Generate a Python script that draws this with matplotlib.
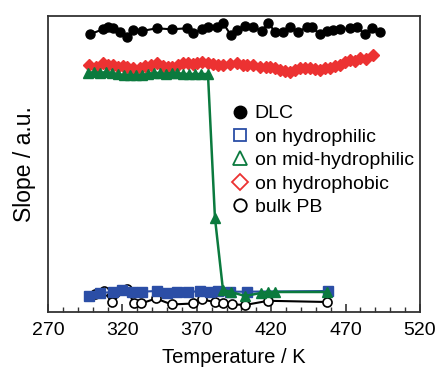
import matplotlib
matplotlib.use('Agg')
import matplotlib.pyplot as plt
from matplotlib.lines import Line2D

plt.rcParams['font.family'] = ['Liberation Sans', 'DejaVu Sans']

# DLC
dlc_t = [298.2, 306.8, 310.5, 313.9, 318.4, 322.9, 327.3, 333.0, 343.0, 353.1,
         363.2, 367.6, 373.3, 377.7, 383.4, 387.8, 392.8, 396.8, 402.4, 408.0,
         413.6, 418.1, 422.6, 428.1, 432.6, 438.2, 443.9, 447.2, 452.8, 457.3,
         461.7, 466.2, 473.0, 477.5, 483.0, 487.5, 493.1]
dlc_v = [277.7, 282.7, 284.7, 283.7, 279.7, 275.3, 282.0, 281.0, 283.7, 282.7,
         283.7, 278.7, 282.7, 284.7, 285.3, 288.7, 277.0, 282.0, 286.0, 284.7,
         281.3, 288.7, 280.3, 279.7, 284.7, 279.7, 285.3, 284.7, 277.7, 281.3,
         282.0, 282.7, 283.7, 285.3, 277.7, 283.7, 279.7]

# on hydrophilic
hphil_t = [297.6, 305.0, 313.8, 319.7, 326.5, 333.0, 343.0, 349.7, 356.7, 364.0,
           372.0, 378.9, 384.0, 392.2, 403.5, 458.2]
hphil_v = [16.3, 18.7, 20.3, 22.0, 19.7, 20.3, 21.0, 18.7, 20.3, 19.7,
           21.0, 20.3, 21.0, 20.3, 20.3, 21.0]

# on mid-hydrophilic
mid_t = [297, 301, 305, 309, 313, 317, 321, 325, 329, 333, 337, 341, 345, 349,
         353, 357, 361, 365, 369, 373, 377.5, 382.2, 387.6, 393.0, 402.4, 413.0,
         418.0, 422.6, 457.5]
mid_v = [239, 240, 239, 240, 239, 238, 237, 237, 237, 237, 238, 239, 239, 238,
         239, 239, 238, 238, 238, 238, 238, 94, 22, 20, 16, 19, 20, 20, 20]

# on hydrophobic
hphob_t = [297.6, 302.3, 307.0, 310.3, 313.7, 317.0, 320.4, 323.1, 327.1, 331.8,
           335.2, 339.2, 343.3, 347.3, 350.7, 353.3, 357.4, 360.7, 364.1, 367.4,
           370.1, 373.5, 377.5, 380.9, 384.2, 387.6, 392.3, 397.0, 401.0, 403.7,
           407.7, 412.4, 416.4, 419.1, 422.6, 425.9, 429.3, 432.6, 436.0, 439.4,
           442.7, 446.1, 449.4, 452.8, 456.2, 459.5, 462.9, 466.2, 469.6, 473.0,
           476.3, 479.7, 483.7, 488.4]
hphob_v = [247, 245, 248.7, 247, 247, 245, 246, 245, 244, 243.7,
           246, 247, 248.7, 246, 245, 245.3, 247, 248.7, 248.7, 248,
           249, 250.3, 248.7, 248, 247, 247, 248, 248.7, 247, 247,
           247, 245.3, 245, 245.3, 244, 242, 241, 240.3, 242, 243.7,
           243.5, 243.7, 243, 242, 244, 243.7, 246, 247, 250, 252,
           251, 253.7, 253, 257]

# bulk PB
bulk_t = [301.6, 307.6, 312.8, 323.1, 327.8, 332.5, 342.6, 353.1, 367.6, 373.3,
          382.2, 387.8, 393.5, 402.4, 418.0, 457.3]
bulk_v = [18, 21, 10, 23, 8.5, 8.5, 13.5, 7.5, 8.5, 12.5, 10, 8.5, 7.7, 7, 11.2, 10]

xticks = [270, 320, 370, 420, 470, 520]

blue = '#2b4ea6'
green = '#0b7a3e'
red = '#ec3232'

fig = plt.figure(figsize=(4.38, 3.67), dpi=100)
ax = fig.add_axes([0.1096, 0.1499, 0.8493, 0.8065])

ax.plot(bulk_t, bulk_v, '-o', color='black', mfc='white', mec='black', ms=6.5, lw=1.5, mew=1.2, zorder=2)
ax.plot(hphil_t, hphil_v, '-s', color=blue, ms=6.5, lw=1.5, zorder=3)
ax.plot(mid_t, mid_v, '-^', color=green, ms=7, lw=1.8, zorder=4)
ax.plot(hphob_t, hphob_v, '-D', color=red, ms=6, lw=1.5, zorder=3)
ax.plot(dlc_t, dlc_v, '-o', color='black', ms=6.5, lw=1.5, zorder=3)

ax.set_xlim(270, 520)
ax.set_ylim(0, 296)
ax.set_xticks(xticks)
ax.set_xticks(range(270, 521, 10), minor=True)
ax.tick_params(axis='x', which='both', direction='in', labelsize=14, pad=7, color='#333333')
ax.tick_params(axis='x', which='major', length=6, width=1.2)
ax.tick_params(axis='x', which='minor', length=3.5, width=1.0)
ax.set_yticks([])
for s in ax.spines.values():
    s.set_linewidth(1.3)
    s.set_color('#333333')

ax.set_xlabel('Temperature / K', fontsize=14.5, labelpad=7)
ax.set_ylabel('Slope / a.u.', fontsize=16.5, labelpad=9)

handles = [
    Line2D([], [], ls='none', marker='o', color='black', ms=9),
    Line2D([], [], ls='none', marker='s', mfc='none', mec=blue, ms=9, mew=1.3),
    Line2D([], [], ls='none', marker='^', mfc='none', mec=green, ms=10, mew=1.3),
    Line2D([], [], ls='none', marker='D', mfc='none', mec=red, ms=8, mew=1.3),
    Line2D([], [], ls='none', marker='o', mfc='none', mec='black', ms=9, mew=1.3),
]
labels = ['DLC', 'on hydrophilic', 'on mid-hydrophilic', 'on hydrophobic', 'bulk PB']
ax.legend(handles, labels, loc='upper left', bbox_to_anchor=(0.496, 0.70), frameon=False,
          fontsize=14, handlelength=0.8, handletextpad=0.35, labelspacing=0.3,
          borderpad=0, borderaxespad=0)

fig.savefig('out.png', dpi=100)
